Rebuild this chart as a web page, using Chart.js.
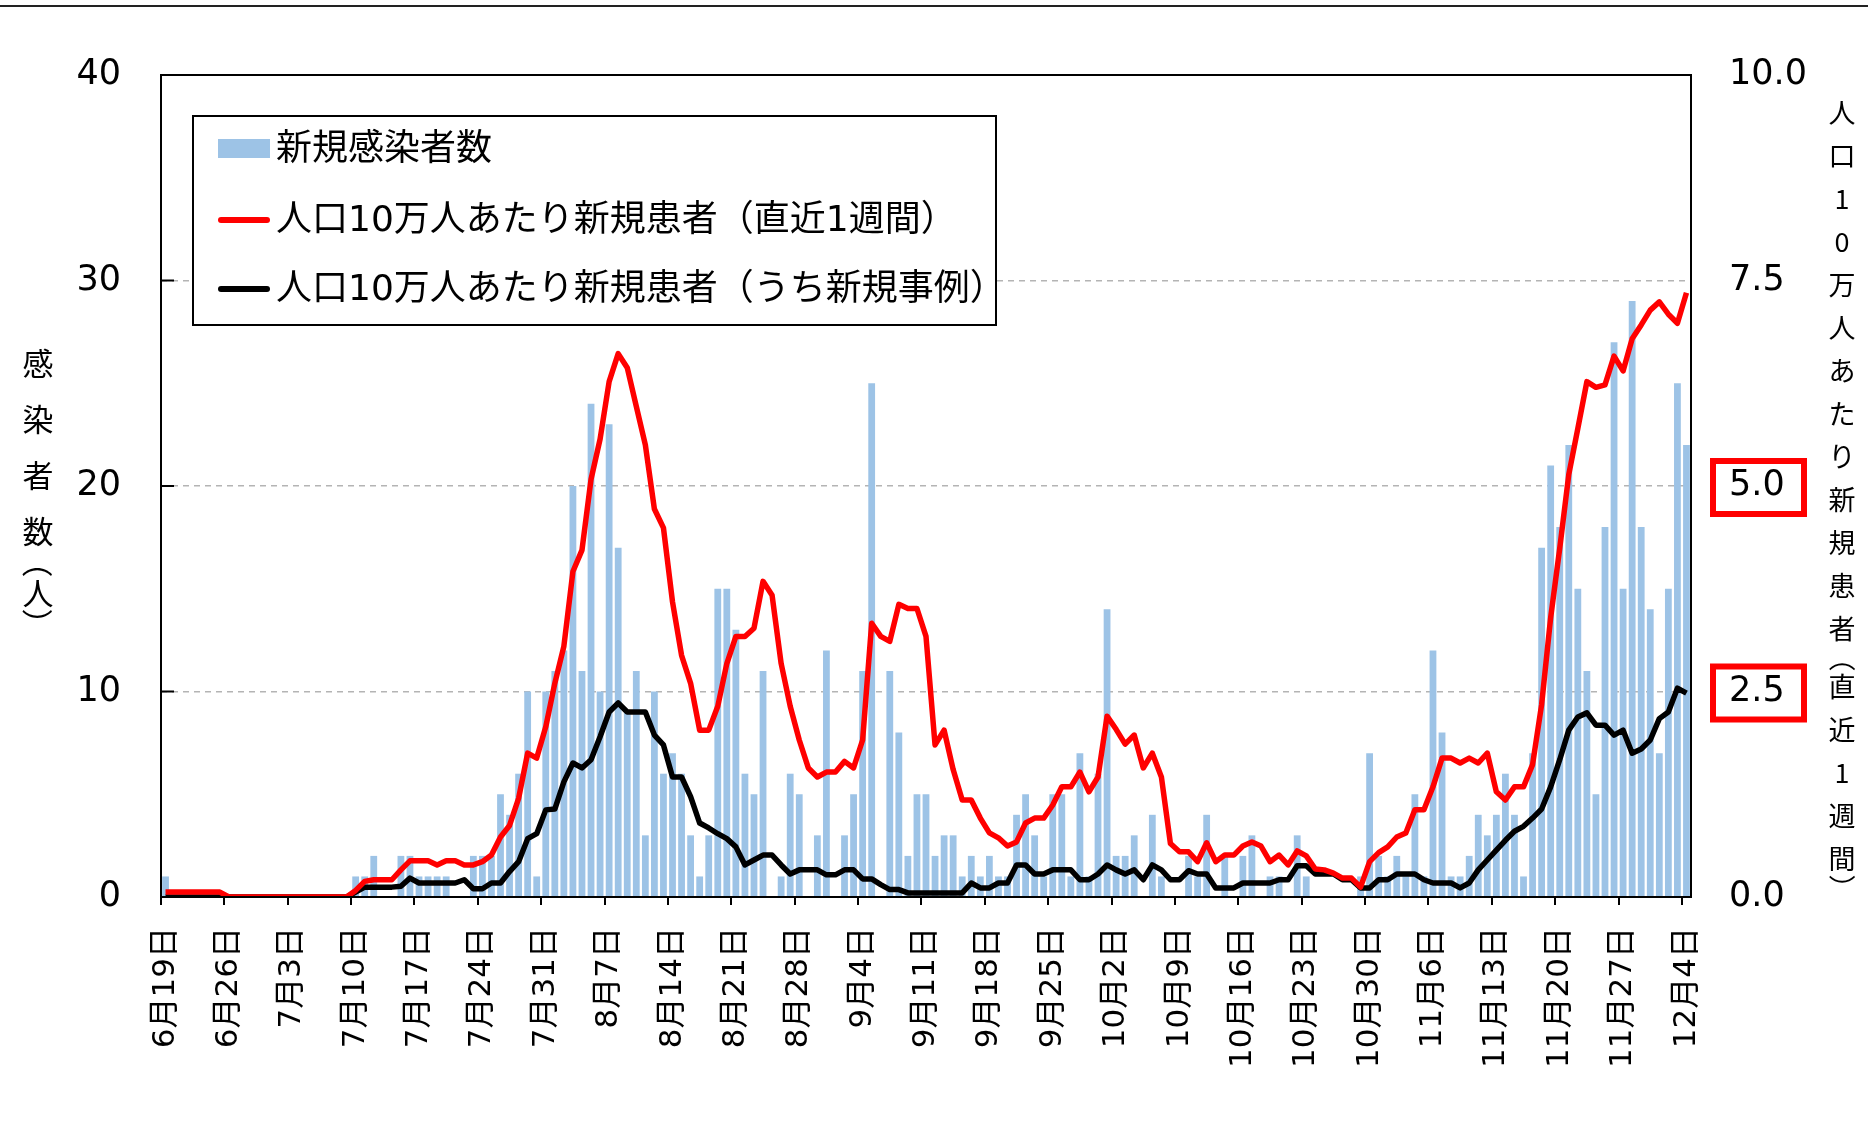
<!DOCTYPE html>
<html>
<head>
<meta charset="utf-8">
<script src="https://cdn.jsdelivr.net/npm/chart.js@4.4.1/dist/chart.umd.min.js"></script>
<style>
  html, body { margin: 0; padding: 0; background: #fff; }
  #wrap { width: 1868px; height: 1134px; }
</style>
</head>
<body>
<div id="wrap"><canvas id="chart" width="1868" height="1134"></canvas></div>
<script>
// daily categories, 6/19 .. 12/4
const firstDay = [2020, 5, 19];
const dayCount = 169;
const categories = [];
for (let i = 0; i < dayCount; i++) {
  const d = new Date(firstDay[0], firstDay[1], firstDay[2] + i);
  categories.push((d.getMonth() + 1) + "月" + d.getDate() + "日");
}

// 新規感染者数 (one row per week)
const newCases = [
  1, 0, 0, 0, 0, 0, 0,
  0, 0, 0, 0, 0, 0, 0,
  0, 0, 0, 0, 0, 0, 0,
  1, 1, 2, 0, 0, 2, 2,
  1, 1, 1, 1, 0, 0, 2,
  2, 2, 5, 4, 6, 10, 1,
  10, 11, 12, 20, 11, 24, 10,
  23, 17, 9, 11, 3, 10, 6,
  7, 6, 3, 1, 3, 15, 15,
  13, 6, 5, 11, 0, 1, 6,
  5, 0, 3, 12, 0, 3, 5,
  11, 25, 0, 11, 8, 2, 5,
  5, 2, 3, 3, 1, 2, 1,
  2, 1, 1, 4, 5, 3, 1,
  5, 5, 1, 7, 1, 6, 14,
  2, 2, 3, 0, 4, 1, 0,
  0, 2, 1, 4, 0, 2, 0,
  2, 3, 0, 1, 1, 0, 3,
  1, 0, 0, 0, 0, 0, 1,
  7, 2, 1, 2, 1, 5, 1,
  12, 8, 1, 1, 2, 4, 3,
  4, 6, 4, 1, 7, 17, 21,
  18, 22, 15, 11, 5, 18, 27,
  15, 29, 18, 14, 7, 15, 25,
  22
];

// 人口10万人あたり新規患者（直近1週間）
const weeklyPer100k = [
  0.06, 0.06, 0.06, 0.06, 0.06, 0.06, 0.06,
  0, 0, 0, 0, 0, 0, 0,
  0, 0, 0, 0, 0, 0, 0,
  0.08, 0.19, 0.21, 0.21, 0.21, 0.33, 0.44,
  0.44, 0.44, 0.39, 0.44, 0.44, 0.39, 0.39,
  0.43, 0.51, 0.73, 0.87, 1.2, 1.75, 1.69,
  2.07, 2.6, 3.05, 3.96, 4.22, 5.08, 5.57,
  6.27, 6.61, 6.44, 5.97, 5.5, 4.72, 4.49,
  3.59, 2.94, 2.6, 2.03, 2.03, 2.32, 2.84,
  3.17, 3.17, 3.27, 3.84, 3.67, 2.84, 2.32,
  1.91, 1.57, 1.46, 1.52, 1.52, 1.65, 1.57,
  1.91, 3.33, 3.17, 3.11, 3.56, 3.51, 3.51,
  3.17, 1.85, 2.03, 1.55, 1.18, 1.18, 0.96,
  0.78, 0.72, 0.62, 0.67, 0.9, 0.96, 0.96,
  1.12, 1.34, 1.34, 1.52, 1.28, 1.46, 2.2,
  2.04, 1.86, 1.97, 1.57, 1.75, 1.46, 0.65,
  0.55, 0.55, 0.43, 0.66, 0.43, 0.51, 0.51,
  0.62, 0.67, 0.62, 0.43, 0.51, 0.39, 0.56,
  0.5, 0.34, 0.33, 0.29, 0.23, 0.23, 0.12,
  0.43, 0.54, 0.61, 0.73, 0.78, 1.06, 1.06,
  1.34, 1.69, 1.69, 1.63, 1.69, 1.63, 1.75,
  1.28, 1.18, 1.34, 1.34, 1.61, 2.34, 3.4,
  4.24, 5.14, 5.7, 6.27, 6.2, 6.23, 6.58,
  6.4, 6.79, 6.96, 7.14, 7.24, 7.09, 6.98,
  7.35
];

// 人口10万人あたり新規患者（うち新規事例）
const newClusterPer100k = [
  0, 0, 0, 0, 0, 0, 0,
  0, 0, 0, 0, 0, 0, 0,
  0, 0, 0, 0, 0, 0, 0,
  0.06, 0.12, 0.12, 0.12, 0.12, 0.13, 0.23,
  0.17, 0.17, 0.17, 0.17, 0.17, 0.21, 0.1,
  0.1, 0.17, 0.17, 0.31, 0.43, 0.71, 0.77,
  1.06, 1.07, 1.4, 1.63, 1.57, 1.67, 1.95,
  2.25, 2.36, 2.25, 2.25, 2.25, 1.97, 1.85,
  1.46, 1.46, 1.22, 0.9, 0.84, 0.77, 0.71,
  0.61, 0.39, 0.45, 0.51, 0.51, 0.39, 0.28,
  0.33, 0.33, 0.33, 0.27, 0.27, 0.33, 0.33,
  0.22, 0.22, 0.15, 0.09, 0.09, 0.05, 0.05,
  0.05, 0.05, 0.05, 0.05, 0.05, 0.17, 0.11,
  0.11, 0.17, 0.17, 0.39, 0.39, 0.28, 0.28,
  0.33, 0.33, 0.33, 0.21, 0.21, 0.28, 0.39,
  0.33, 0.28, 0.33, 0.21, 0.39, 0.33, 0.21,
  0.21, 0.32, 0.28, 0.28, 0.11, 0.11, 0.11,
  0.17, 0.17, 0.17, 0.17, 0.21, 0.21, 0.38,
  0.38, 0.28, 0.28, 0.28, 0.21, 0.21, 0.11,
  0.11, 0.21, 0.21, 0.28, 0.28, 0.28, 0.21,
  0.17, 0.17, 0.17, 0.11, 0.17, 0.33, 0.45,
  0.57, 0.69, 0.8, 0.86, 0.96, 1.07, 1.34,
  1.67, 2.03, 2.19, 2.24, 2.09, 2.09, 1.97,
  2.03, 1.75, 1.8, 1.91, 2.17, 2.25, 2.54,
  2.48
];

const leftTicks = [0, 10, 20, 30, 40];
const rightTicks = [0, 2.5, 5, 7.5, 10];
const boxedRightTicks = [5, 2.5];

const leftTitle = ["感", "染", "者", "数", "（", "人", "）"];
const rightTitle = ["人", "口", "1", "0", "万", "人", "あ", "た", "り", "新", "規",
  "患", "者", "（", "直", "近", "1", "週", "間", "）"];

const FONT = "'DejaVu Sans', 'Noto Sans CJK JP', sans-serif";
const JPFONT = "'Noto Sans CJK JP', sans-serif";
const BAR_BLUE = "#9dc3e6";

Chart.defaults.font.family = FONT;
Chart.defaults.color = "#000";

// draws stacked vertical text, brackets turned sideways
function drawVertical(ctx, chars, x, y, step, bracketStep, size) {
  ctx.save();
  ctx.font = size + "px " + JPFONT;
  ctx.fillStyle = "#000";
  ctx.textAlign = "center";
  ctx.textBaseline = "middle";
  let cy = y;
  chars.forEach(function (ch, k) {
    const isBracket = ch === "（" || ch === "）";
    if (k > 0) {
      const prevBracket = chars[k - 1] === "（" || chars[k - 1] === "）";
      cy += (isBracket || prevBracket) ? bracketStep : step;
    }
    if (isBracket) {
      ctx.save();
      ctx.translate(x, cy);
      ctx.rotate(Math.PI / 2);
      ctx.fillText(ch, 0, 0);
      ctx.restore();
    } else {
      ctx.fillText(ch, x, cy);
    }
  });
  ctx.restore();
}

const decorations = {
  id: "decorations",
  afterDraw(chart) {
    const ctx = chart.ctx;
    const area = chart.chartArea;
    const yL = chart.scales.y;
    const yR = chart.scales.y1;

    ctx.save();
    // rule across the top of the page
    ctx.strokeStyle = "#222";
    ctx.lineWidth = 2;
    ctx.beginPath();
    ctx.moveTo(0, 6);
    ctx.lineTo(chart.width, 6);
    ctx.stroke();

    // plot frame
    ctx.strokeStyle = "#000";
    ctx.lineWidth = 2;
    ctx.strokeRect(area.left, area.top, area.right - area.left, area.bottom - area.top);

    // short inner ticks on the left axis
    leftTicks.forEach(function (v) {
      const py = yL.getPixelForValue(v);
      ctx.beginPath();
      ctx.moveTo(area.left, py);
      ctx.lineTo(area.left + 13, py);
      ctx.stroke();
    });

    // red boxes round two right-hand tick labels
    ctx.strokeStyle = "#ff0000";
    ctx.lineWidth = 6;
    boxedRightTicks.forEach(function (v) {
      const py = yR.getPixelForValue(v);
      ctx.strokeRect(area.right + 22, py - 25, 91, 53);
    });

    // legend
    const lx = 193, ly = 116, lw = 803, lh = 209;
    ctx.fillStyle = "#fff";
    ctx.fillRect(lx, ly, lw, lh);
    ctx.strokeStyle = "#000";
    ctx.lineWidth = 2;
    ctx.strokeRect(lx, ly, lw, lh);
    const rows = [149, 220, 289];
    const ds = chart.data.datasets;
    ctx.font = "36px " + FONT;
    ctx.textBaseline = "middle";
    ctx.textAlign = "left";
    ds.forEach(function (d, r) {
      const cy = rows[r];
      if (d.type === "bar") {
        ctx.fillStyle = d.backgroundColor;
        ctx.fillRect(218, cy - 10, 52, 19);
      } else {
        ctx.strokeStyle = d.borderColor;
        ctx.lineWidth = 6;
        ctx.lineCap = "round";
        ctx.beginPath();
        ctx.moveTo(221, cy);
        ctx.lineTo(267, cy);
        ctx.stroke();
      }
      ctx.fillStyle = "#000";
      ctx.fillText(d.label, 276, cy + 2);
    });
    ctx.restore();

    // axis titles
    drawVertical(ctx, leftTitle, 38, 363, 56, 31, 31);
    drawVertical(ctx, rightTitle, 1842, 113, 43, 29, 27);
  }
};

const ctx = document.getElementById("chart").getContext("2d");
const chart = new Chart(ctx, {
  data: {
    labels: categories,
    datasets: [
      {
        type: "bar",
        label: "新規感染者数",
        data: newCases,
        yAxisID: "y",
        backgroundColor: BAR_BLUE,
        borderWidth: 0,
        barPercentage: 0.75,
        categoryPercentage: 1.0,
        order: 3
      },
      {
        type: "line",
        label: "人口10万人あたり新規患者（直近1週間）",
        data: weeklyPer100k,
        yAxisID: "y1",
        borderColor: "#ff0000",
        borderWidth: 5.5,
        borderJoinStyle: "round",
        pointRadius: 0,
        tension: 0,
        fill: false,
        order: 1
      },
      {
        type: "line",
        label: "人口10万人あたり新規患者（うち新規事例）",
        data: newClusterPer100k,
        yAxisID: "y1",
        borderColor: "#000000",
        borderWidth: 5.5,
        borderJoinStyle: "round",
        pointRadius: 0,
        tension: 0,
        fill: false,
        order: 2
      }
    ]
  },
  options: {
    responsive: false,
    animation: false,
    devicePixelRatio: 1,
    layout: { padding: { top: 75, left: 0, right: 0, bottom: 0 } },
    plugins: {
      legend: { display: false },
      tooltip: { enabled: false }
    },
    scales: {
      x: {
        type: "category",
        offset: true,
        grid: {
          offset: true,
          drawOnChartArea: false,
          drawTicks: true,
          tickLength: 8,
          lineWidth: 2,
          color: function (c) { return c.index % 7 === 0 ? "#000" : "rgba(0,0,0,0)"; }
        },
        border: { display: false },
        ticks: {
          autoSkip: false,
          minRotation: 90,
          maxRotation: 90,
          padding: 22,
          font: { size: 31, family: FONT },
          callback: function (v, i) { return i % 7 === 0 ? categories[i] : ""; }
        },
        afterFit: function (s) { s.height = 237; }
      },
      y: {
        position: "left",
        min: leftTicks[0],
        max: leftTicks[leftTicks.length - 1],
        afterBuildTicks: function (s) { s.ticks = leftTicks.map(function (v) { return { value: v }; }); },
        ticks: { padding: 40, font: { size: 35 } },
        grid: {
          drawTicks: false,
          lineWidth: 1.5,
          color: function (c) {
            const v = c.tick ? c.tick.value : 0;
            return (v > 0 && v < 40) ? "#b4b4b4" : "rgba(0,0,0,0)";
          }
        },
        border: { display: false, dash: [6, 5] },
        afterFit: function (s) { s.width = 161; }
      },
      y1: {
        position: "right",
        min: rightTicks[0],
        max: rightTicks[rightTicks.length - 1],
        afterBuildTicks: function (s) { s.ticks = rightTicks.map(function (v) { return { value: v }; }); },
        ticks: {
          padding: 38,
          font: { size: 35 },
          callback: function (v) { return Number(v).toFixed(1); }
        },
        grid: { display: false, drawTicks: false },
        border: { display: false },
        afterFit: function (s) { s.width = 177; }
      }
    }
  },
  plugins: [decorations]
});
</script>
</body>
</html>
